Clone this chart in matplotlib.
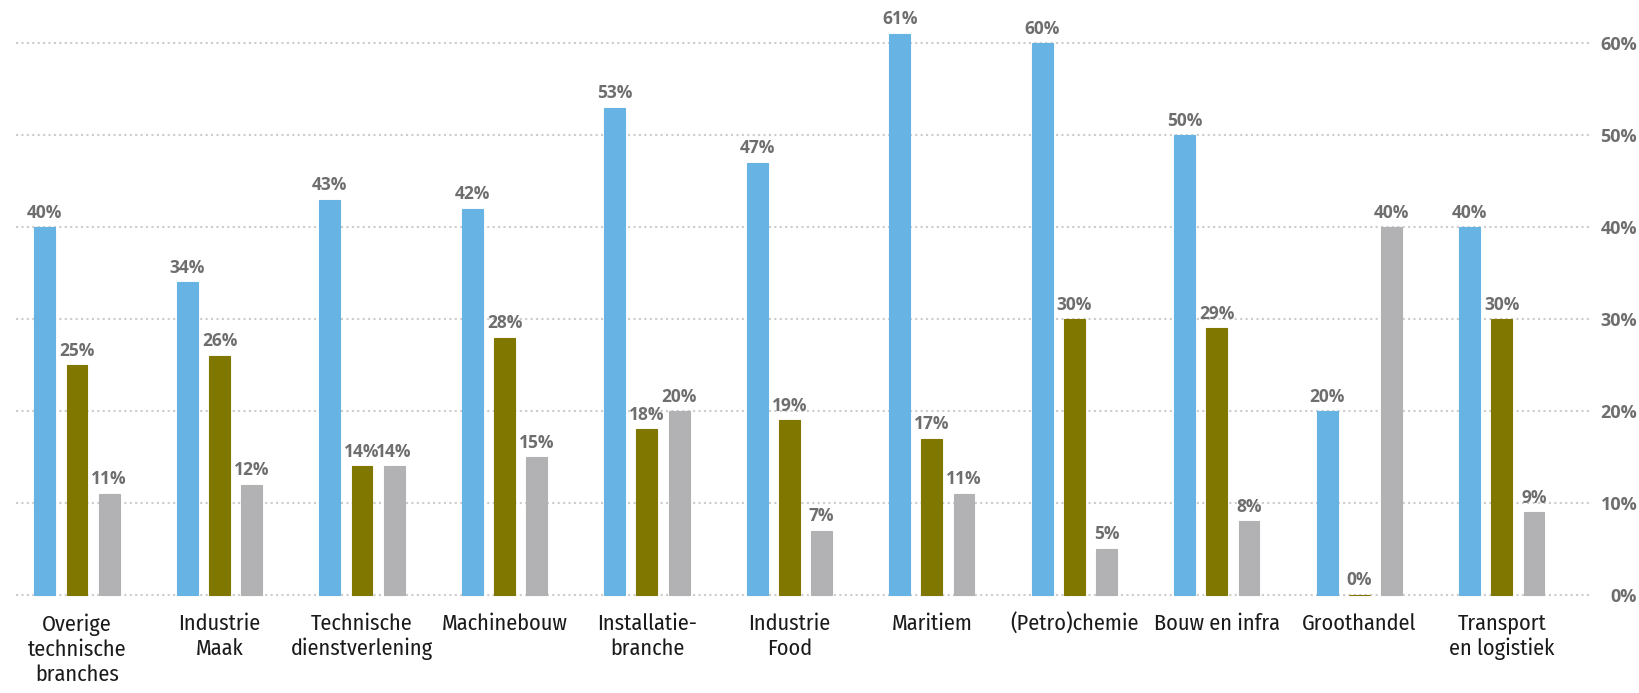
import numpy as np
import matplotlib.pyplot as plt
from matplotlib import font_manager

# branches and the three answer shares (percent)
branches = ["Overige\ntechnische\nbranches", "Industrie\nMaak", "Technische\ndienstverlening",
            "Machinebouw", "Installatie-\nbranche", "Industrie\nFood", "Maritiem",
            "(Petro)chemie", "Bouw en infra", "Groothandel", "Transport\nen logistiek"]
blue_vals = [40, 34, 43, 42, 53, 47, 61, 60, 50, 20, 40]
olive_vals = [25, 26, 14, 28, 18, 19, 17, 30, 29, 0, 30]
grey_vals = [11, 12, 14, 15, 20, 7, 11, 5, 8, 40, 9]

colors = ["#67b3e3", "#807700", "#b2b2b4"]
label_color = "#6e6e6e"

# pick a narrow face for the category names, whatever is on the machine
available = {f.name for f in font_manager.fontManager.ttflist}
narrow = [f for f in ["Fira Sans Condensed", "Roboto Condensed", "Open Sans Condensed",
                      "Asap Condensed", "Archivo Narrow", "Liberation Sans Narrow", "Roboto"]
          if f in available][:1] + ["DejaVu Sans"]
bold = [f for f in ["Open Sans", "Noto Sans"] if f in available][:1] + ["DejaVu Sans"]

fig = plt.figure(figsize=(16.4, 6.93), dpi=100)
ax = fig.add_axes([16 / 1640, 98 / 693, (1590 - 16) / 1640, 595 / 693])

x = np.arange(len(branches))
width = 0.147
offset = 0.225

for i, (vals, col) in enumerate(zip([blue_vals, olive_vals, grey_vals], colors)):
    pos = x + (i - 1) * offset
    bars = ax.bar(pos, vals, width=width, color=col, edgecolor=col, linewidth=0.8,
                  zorder=3, clip_on=False)
    for b, v in zip(bars, vals):
        ax.annotate(f"{v}%", (b.get_x() + b.get_width() / 2, v), xytext=(0, 4),
                    textcoords="offset points", ha="center", va="bottom",
                    fontsize=12.5, fontweight="bold", color=label_color,
                    family=bold, zorder=4)

ax.set_xlim(-0.428, 10.618)
ax.set_ylim(0, 64.7)

# dotted grid lines
for t in range(0, 61, 10):
    ax.axhline(t, color="#cccccc", linewidth=1.5, linestyle=(0, (1, 1.6)),
               zorder=1, clip_on=False)

for s in ax.spines.values():
    s.set_visible(False)

ax.set_xticks(x)
ax.set_xticklabels(branches, fontsize=16, family=narrow, color="#1a1a1a",
                   linespacing=1.2)
ax.tick_params(axis="x", length=0, pad=13)

ax.yaxis.tick_right()
ax.set_yticks(range(0, 61, 10))
ax.set_yticklabels([f"{t}%" for t in range(0, 61, 10)], fontsize=13,
                   fontweight="bold", color=label_color, family=bold)
for lbl in ax.get_yticklabels():
    lbl.set_horizontalalignment("right")
ax.tick_params(axis="y", length=0, pad=34)

fig.savefig("out.png", dpi=100)
